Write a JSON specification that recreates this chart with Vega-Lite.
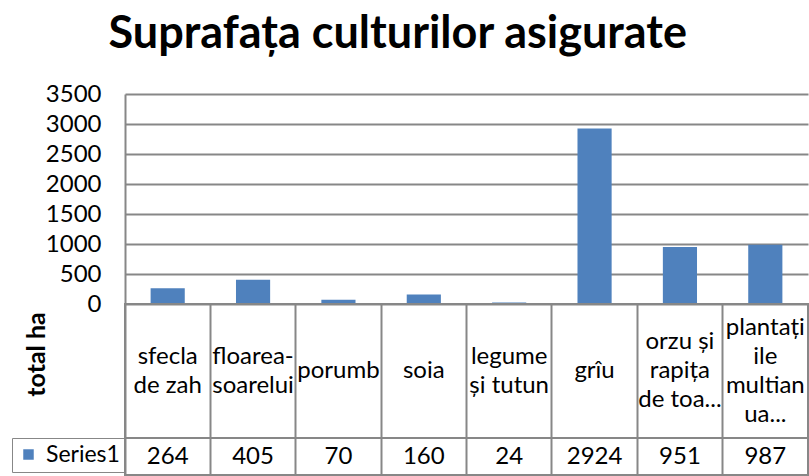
{
  "$schema": "https://vega.github.io/schema/vega-lite/v6.json",
  "background": "white",
  "padding": {"left": 10, "top": 12, "right": 0, "bottom": 0},
  "title": {"text": "Suprafața culturilor asigurate", "font": "Lato", "fontSize": 45, "fontWeight": "bold", "color": "black", "anchor": "middle", "offset": 25, "dx": -12},
  "config": {
    "font": "Lato",
    "view": {"stroke": null},
    "concat": {"spacing": 0}
  },
  "datasets": {
    "crops": [
      {"cultura": "sfecla de zah", "eticheta": "sfecla\nde zah", "randuri": 2, "ha": 264},
      {"cultura": "floarea-soarelui", "eticheta": "floarea-\nsoarelui", "randuri": 2, "ha": 405},
      {"cultura": "porumb", "eticheta": "porumb", "randuri": 1, "ha": 70},
      {"cultura": "soia", "eticheta": "soia", "randuri": 1, "ha": 160},
      {"cultura": "legume și tutun", "eticheta": "legume\nși tutun", "randuri": 2, "ha": 24},
      {"cultura": "grîu", "eticheta": "grîu", "randuri": 1, "ha": 2924},
      {"cultura": "orzu și rapița de toa...", "eticheta": "orzu și\nrapița\nde toa...", "randuri": 3, "ha": 951},
      {"cultura": "plantațiile multianua...", "eticheta": "plantați\nile\nmultian\nua...", "randuri": 4, "ha": 987}
    ]
  },
  "bounds": "flush",
  "resolve": {"scale": {"x": "independent", "y": "independent", "color": "independent"}, "legend": {"color": "independent"}, "axis": {"x": "independent", "y": "independent"}},
  "vconcat": [
    {
      "width": 683,
      "height": 210,
      "data": {"name": "crops"},
      "mark": {"type": "bar", "color": "#4F81BD"},
      "encoding": {
        "x": {"field": "cultura", "type": "nominal", "sort": null, "scale": {"paddingInner": 0.6, "paddingOuter": 0.3}, "axis": null},
        "y": {
          "field": "ha", "type": "quantitative",
          "scale": {"domain": [0, 3500], "nice": false},
          "axis": {"values": [0, 500, 1000, 1500, 2000, 2500, 3000, 3500], "title": null, "grid": true, "gridColor": "#878787", "gridWidth": 2, "domain": true, "domainColor": "#878787", "domainWidth": 2, "ticks": false, "labelPadding": 24, "labelFontSize": 24, "labelColor": "black", "labelFont": "Lato", "format": "d"}
        }
      }
    },
    {
      "width": 683,
      "height": 134,
      "view": {"stroke": "#878787", "strokeWidth": 2},
      "data": {"name": "crops"},
      "mark": {"type": "text", "fontSize": 24, "font": "Lato", "lineBreak": "\n", "lineHeight": 29, "baseline": "middle", "align": "center", "color": "black"},
      "encoding": {
        "x": {"field": "cultura", "type": "nominal", "sort": null, "scale": {"type": "band", "paddingInner": 0, "paddingOuter": 0},
          "axis": {"labels": false, "ticks": false, "domain": false, "title": null, "grid": true, "bandPosition": 0, "gridColor": "#878787", "gridWidth": 2}},
        "y": {"datum": "total", "type": "nominal", "scale": {"type": "band", "paddingInner": 0, "paddingOuter": 0},
          "axis": {"labels": false, "ticks": false, "domain": false, "grid": false, "title": "total ha", "titleFont": "Lato", "titleFontSize": 25, "titleFontWeight": "bold", "titleColor": "black", "titleAngle": 270, "titleX": -81, "titleY": 50, "titleAlign": "center", "titleBaseline": "alphabetic"}},
        "yOffset": {"field": "randuri", "type": "quantitative", "scale": {"domain": [1, 4], "range": [67, 23.5]}},
        "text": {"field": "eticheta", "type": "nominal"}
      }
    },
    {
      "width": 683,
      "height": 37,
      "view": {"stroke": "#878787", "strokeWidth": 2},
      "data": {"name": "crops"},
      "layer": [
        {
          "mark": {"type": "text", "fontSize": 24, "font": "Lato", "baseline": "middle", "align": "center", "color": "black"},
          "encoding": {
            "x": {"field": "cultura", "type": "nominal", "sort": null, "scale": {"type": "band", "paddingInner": 0, "paddingOuter": 0},
              "axis": {"labels": false, "ticks": false, "domain": false, "title": null, "grid": true, "bandPosition": 0, "gridColor": "#878787", "gridWidth": 2}},
            "text": {"field": "ha", "type": "quantitative", "format": "d"}
          }
        },
        {
          "mark": {"type": "point", "shape": "square", "size": 0, "filled": true, "opacity": 1},
          "encoding": {
            "x": {"field": "cultura", "type": "nominal", "sort": null},
            "color": {"datum": "Series1", "type": "nominal", "scale": {"range": ["#4F81BD"]},
              "legend": {"orient": "left", "title": null, "offset": 0, "padding": 5, "strokeColor": "#878787", "symbolType": "square", "symbolSize": 110, "symbolOffset": 0, "symbolFillColor": "#4F81BD", "symbolStrokeWidth": 0, "symbolOpacity": 1, "labelOffset": 6, "labelFontSize": 23, "labelColor": "black", "labelFont": "Lato"}}
          }
        }
      ]
    }
  ]
}
